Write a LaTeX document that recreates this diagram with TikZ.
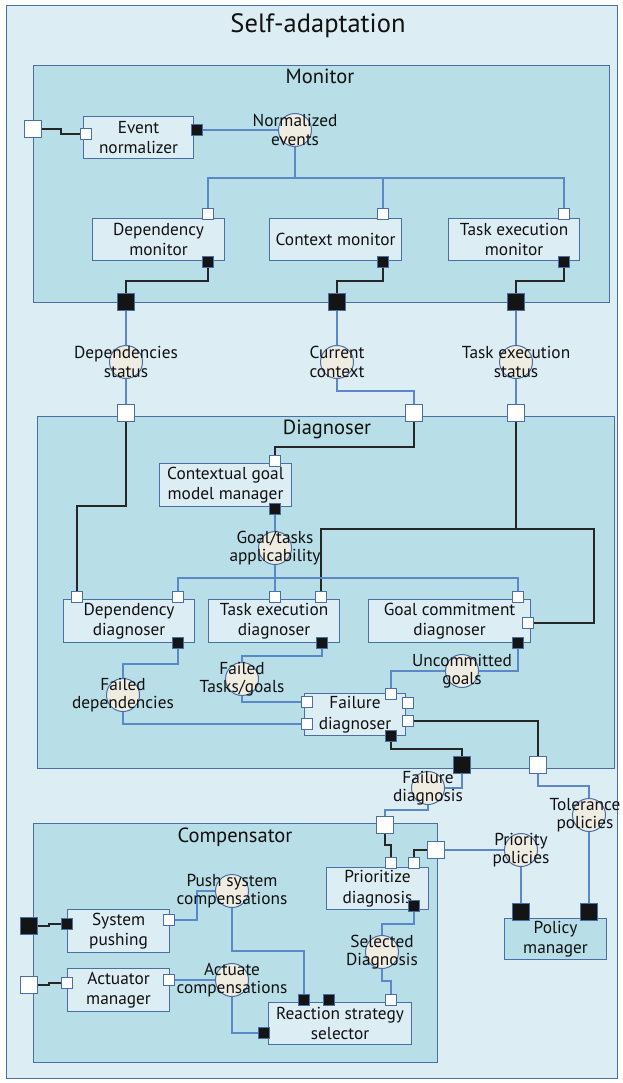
\documentclass[tikz,border=0pt]{standalone}
\usepackage{fontspec}
\setmainfont{PT Sans}
\usetikzlibrary{calc}
\definecolor{outerbg}{HTML}{DCEDF4}
\definecolor{modbg}{HTML}{B8DEE7}
\definecolor{compbg}{HTML}{DCEDF4}
\definecolor{circbg}{HTML}{EFEDE2}
\definecolor{edge}{HTML}{4A6EA6}
\definecolor{bluewire}{HTML}{5A88C8}
\definecolor{darkwire}{HTML}{262626}
\definecolor{ink}{HTML}{111111}
\pgfdeclarelayer{back}
\pgfdeclarelayer{wires}
\pgfsetlayers{back,wires,main}
\begin{document}
\begin{tikzpicture}[x=1pt,y=-1pt,
  container/.style={draw=edge, fill=modbg, line width=1.2pt, inner sep=0pt, anchor=north west},
  comp/.style={draw=edge, fill=compbg, line width=1.1pt, inner sep=0pt, anchor=north west,
    align=center, text=ink, font=\fontsize{17.3}{20.5}\selectfont},
  iface/.style={circle, draw=edge, fill=circbg, line width=1pt, minimum size=33pt, inner sep=0pt},
  clabel/.style={align=center, inner sep=0pt, text=ink, font=\fontsize{17.3}{18.5}\selectfont},
  title/.style={inner sep=0pt, text=ink},
  wport/.style={draw=edge, fill=white, line width=1pt, minimum size=11pt, inner sep=0pt},
  bport/.style={draw=edge, fill=black!92, line width=1pt, minimum size=11pt, inner sep=0pt},
  wportbig/.style={wport, minimum size=17pt},
  bportbig/.style={bport, minimum size=17pt},
  bw/.style={draw=bluewire, line width=1.1pt},
  kw/.style={draw=darkwire, line width=1.3pt}]

\useasboundingbox (0,0) rectangle (622,1083);

% ---------- containers ----------
\begin{pgfonlayer}{back}
  \node[draw=edge, fill=outerbg, line width=1.2pt, inner sep=0pt, anchor=north west,
        minimum width=611pt, minimum height=1073pt] (self) at (6,5) {};
  \node[container, minimum width=576pt, minimum height=237pt] (monitor) at (33,65) {};
  \node[container, minimum width=577pt, minimum height=352pt] (diagnoser) at (37,416) {};
  \node[container, minimum width=404pt, minimum height=239pt] (compensator) at (33,823) {};
\end{pgfonlayer}

\node[title, font=\fontsize{26.5}{30}\selectfont] (t-self) at (318,26) {Self-adaptation};
\node[title, font=\fontsize{20.5}{24}\selectfont] (t-mon) at (320,76) {Monitor};
\node[title, font=\fontsize{20.5}{24}\selectfont] (t-dia) at (327,429) {Diagnoser};
\node[title, font=\fontsize{20.5}{24}\selectfont] (t-com) at (235,837) {Compensator};

% ---------- components ----------
\node[comp, minimum width=110pt, minimum height=42pt] (en) at (83,116) {Event\\normalizer};
\node[comp, minimum width=132pt, minimum height=42pt] (dm) at (92,218) {Dependency\\monitor};
\node[comp, minimum width=132pt, minimum height=42pt] (cm) at (269,218) {Context monitor};
\node[comp, minimum width=131pt, minimum height=42pt] (tm) at (448,218) {Task execution\\monitor};
\node[comp, minimum width=132pt, minimum height=43pt] (cg) at (159,463) {Contextual goal\\model manager};
\node[comp, minimum width=131pt, minimum height=43pt] (dd) at (63,599) {Dependency\\diagnoser};
\node[comp, minimum width=131pt, minimum height=43pt] (td) at (208,599) {Task execution\\diagnoser};
\node[comp, minimum width=162pt, minimum height=43pt] (gc) at (368,599) {Goal commitment\\diagnoser};
\node[comp, minimum width=101pt, minimum height=42pt] (fdg) at (304,693) {Failure\\diagnoser};
\node[comp, minimum width=102pt, minimum height=42pt] (pd) at (326,867) {Prioritize\\diagnosis};
\node[comp, minimum width=143pt, minimum height=42pt] (rs) at (268,1002) {Reaction strategy\\selector};
\node[comp, minimum width=102pt, minimum height=43pt] (sp) at (67,909) {System\\pushing};
\node[comp, minimum width=102pt, minimum height=43pt] (am) at (67,968) {Actuator\\manager};
\node[comp, fill=modbg, minimum width=102pt, minimum height=41pt] (pm) at (504,918) {Policy\\manager};

% ---------- provided / required interfaces ----------
\node[iface] (ne) at (295,130) {};
\node[iface] (ds) at (126,362) {};
\node[iface] (cc) at (337,362) {};
\node[iface] (ts) at (516,362) {};
\node[iface] (ga) at (275,548) {};
\node[iface] (fdp) at (123,695) {};
\node[iface] (ftg) at (242,679) {};
\node[iface] (ug) at (462,671) {};
\node[iface] (fdi) at (428,788) {};
\node[iface] (tp) at (589,815) {};
\node[iface] (pp) at (521,850) {};
\node[iface] (sd) at (382,952) {};
\node[iface] (psc) at (232,891) {};
\node[iface] (ac) at (232,980) {};

% ---------- ports on containers ----------
\node[wportbig] (mon-in) at (33,129) {};
\node[bportbig] (mon-o1) at (126,302) {};
\node[bportbig] (mon-o2) at (337,302) {};
\node[bportbig] (mon-o3) at (516,302) {};
\node[wportbig] (dia-i1) at (126,413) {};
\node[wportbig] (dia-i2) at (414,413) {};
\node[wportbig] (dia-i3) at (516,413) {};
\node[bportbig] (dia-o1) at (462,765) {};
\node[wportbig] (dia-o2) at (538,765) {};
\node[wportbig] (com-i1) at (385,825) {};
\node[wportbig] (com-i2) at (436,850) {};
\node[bportbig] (com-o1) at (29,926) {};
\node[wportbig] (com-o2) at (29,985) {};
\node[bportbig] (pm-i1) at (521,912) {};
\node[bportbig] (pm-i2) at (589,912) {};

% ---------- ports on components ----------
\node[wport] (en-in) at (86,134) {};
\node[bport] (en-out) at (197,130) {};
\node[wport] (dm-in) at (208,214) {};
\node[bport] (dm-out) at (208,262) {};
\node[wport] (cm-in) at (383,214) {};
\node[bport] (cm-out) at (383,262) {};
\node[wport] (tm-in) at (564,214) {};
\node[bport] (tm-out) at (564,262) {};
\node[wport] (cg-in) at (275,461) {};
\node[bport] (cg-out) at (275,509) {};
\node[wport] (dd-in1) at (77,597) {};
\node[wport] (dd-in2) at (178,597) {};
\node[bport] (dd-out) at (178,643) {};
\node[wport] (td-in1) at (275,597) {};
\node[wport] (td-in2) at (321,597) {};
\node[bport] (td-out) at (322,643) {};
\node[wport] (gc-in1) at (518,597) {};
\node[wport] (gc-in2) at (528,623) {};
\node[bport] (gc-out) at (518,643) {};
\node[wport] (fd-in1) at (307,702) {};
\node[wport] (fd-in2) at (307,724) {};
\node[wport] (fd-in3) at (391,694) {};
\node[wport] (fd-r1) at (408,703) {};
\node[wport] (fd-r2) at (408,721) {};
\node[bport] (fd-out) at (391,736) {};
\node[wport] (pd-in1) at (391,863) {};
\node[wport] (pd-in2) at (414,863) {};
\node[bport] (pd-out) at (414,906) {};
\node[bport] (rs-in1) at (304,1000) {};
\node[bport] (rs-in2) at (329,1000) {};
\node[wport] (rs-in3) at (391,1000) {};
\node[bport] (rs-in4) at (264,1033) {};
\node[bport] (sp-in) at (67,924) {};
\node[wport] (sp-out) at (169,920) {};
\node[wport] (am-in) at (67,983) {};
\node[wport] (am-out) at (169,980) {};

% ---------- interface labels ----------
\node[clabel] (l-ne) at (ne) {Normalized\\events};
\node[clabel] (l-ds) at (ds) {Dependencies\\status};
\node[clabel] (l-cc) at (cc) {Current\\context};
\node[clabel] (l-ts) at (ts) {Task execution\\status};
\node[clabel] (l-ga) at (ga) {Goal/tasks\\applicability};
\node[clabel] (l-fdp) at (fdp) {Failed\\dependencies};
\node[clabel] (l-ftg) at (ftg) {Failed\\Tasks/goals};
\node[clabel] (l-ug) at (ug) {Uncommitted\\goals};
\node[clabel] (l-fdi) at (fdi) {Failure\\diagnosis};
\node[clabel] (l-tp) at ($(tp)+(-4,0)$) {Tolerance\\policies};
\node[clabel] (l-pp) at (pp) {Priority\\policies};
\node[clabel] (l-sd) at (sd) {Selected\\Diagnosis};
\node[clabel] (l-psc) at (psc) {Push system\\compensations};
\node[clabel] (l-ac) at (ac) {Actuate\\compensations};

% ---------- connectors ----------
\begin{pgfonlayer}{wires}
  % delegation links (black)
  \draw[kw] (mon-in) -- ++(28,0) |- (en-in);
  \draw[kw] (dm-out) -- ++(0,19) -| (mon-o1);
  \draw[kw] (cm-out) -- ++(0,19) -| (mon-o2);
  \draw[kw] (tm-out) -- ++(0,19) -| (mon-o3);
  \draw[kw] (dia-i1) -- ++(0,93) -| (dd-in1);
  \draw[kw] (dia-i2) -- ++(0,34) -| (cg-in);
  \draw[kw] (dia-i3) -- ++(0,116) coordinate (tj);
  \draw[kw] (tj) -| (td-in2);
  \draw[kw] (tj) -- ++(78,0) |- (gc-in2);
  \draw[kw] (fd-out) -- ++(0,13) -| (dia-o1);
  \draw[kw] (fd-r2) -| (dia-o2);
  \draw[kw] (com-i1) -- ++(0,20) -| (pd-in1);
  \draw[kw] (com-i2) -| (pd-in2);
  \draw[kw] (com-o1) -- ++(20,0) |- (sp-in);
  \draw[kw] (com-o2) -- ++(20,0) |- (am-in);

  % assembly links (blue)
  \draw[bw] (en-out) -- (ne);
  \draw[bw] (ne) -- ++(0,48) coordinate (nj);
  \draw[bw] (nj) -| (dm-in);
  \draw[bw] (nj) -| (cm-in);
  \draw[bw] (nj) -| (tm-in);
  \draw[bw] (mon-o1) -- (ds) -- (dia-i1);
  \draw[bw] (mon-o2) -- (cc);
  \draw[bw] (cc) -- ++(0,29) -| (dia-i2);
  \draw[bw] (mon-o3) -- (ts) -- (dia-i3);
  \draw[bw] (cg-out) -- (ga);
  \draw[bw] (ga) -- ++(0,30) coordinate (gj);
  \draw[bw] (gj) -| (dd-in2);
  \draw[bw] (gj) -- (td-in1);
  \draw[bw] (gj) -| (gc-in1);
  \draw[bw] (dd-out) -- ++(0,21) -| (fdp);
  \draw[bw] (fdp) |- (fd-in2);
  \draw[bw] (td-out) -- ++(0,13) -| (ftg);
  \draw[bw] (ftg) |- (fd-in1);
  \draw[bw] (gc-out) |- (ug);
  \draw[bw] (ug) -| (fd-in3);
  \draw[bw] (dia-o1) |- (fdi);
  \draw[bw] (fdi) -- ++(0,22) -| (com-i1);
  \draw[bw] (dia-o2) -- ++(0,21) -| (tp);
  \draw[bw] (tp) -- (pm-i2);
  \draw[bw] (com-i2) -- (pp);
  \draw[bw] (pp) -- (pm-i1);
  \draw[bw] (pd-out) -- ++(0,18) -| (sd);
  \draw[bw] (sd) -- ++(0,29) -| (rs-in3);
  \draw[bw] (sp-out) -- ++(28,0) |- (psc);
  \draw[bw] (psc) -- ++(0,60) -| (rs-in1);
  \draw[bw] (am-out) -- (ac);
  \draw[bw] (ac) |- (rs-in4);
\end{pgfonlayer}
\end{tikzpicture}
\end{document}
